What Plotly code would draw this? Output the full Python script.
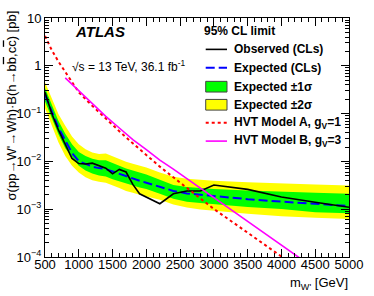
import plotly.graph_objects as go

# ---------------- data ----------------
mass = [500, 600, 700, 800, 900, 1000, 1100, 1200, 1300, 1400, 1500, 1600, 1700,
        1800, 1900, 2000, 2200, 2400, 2600, 2800, 3000, 3500, 4000, 4500, 5000]
observed = [0.28, 0.10, 0.045, 0.022, 0.0115, 0.0090, 0.0088, 0.0092, 0.0082, 0.0072,
            0.0055, 0.0068, 0.0060, 0.0033, 0.0021, 0.0018, 0.0013, 0.0021, 0.0024,
            0.0024, 0.0032, 0.0026, 0.0018, 0.0014, 0.0011]
expected = [0.248, 0.112, 0.0505, 0.0275, 0.0150, 0.0101, 0.0089, 0.0078, 0.00724,
            0.00691, 0.00615, 0.00547, 0.00486, 0.00443, 0.00394, 0.00359, 0.00298,
            0.00241, 0.00214, 0.00200, 0.00186, 0.00162, 0.00144, 0.00131, 0.00117]
exp_plus2 = [0.455, 0.2056, 0.0972, 0.0555, 0.0331, 0.0228, 0.0180, 0.0153, 0.01427,
             0.0146, 0.0127, 0.0113, 0.00982, 0.00894, 0.00814, 0.00741, 0.00587,
             0.00475, 0.00433, 0.00413, 0.00394, 0.00367, 0.00342, 0.00327, 0.00312]
exp_plus1 = [0.344, 0.155, 0.0701, 0.0381, 0.0228, 0.01567, 0.0130, 0.0113, 0.01053,
             0.01053, 0.00915, 0.00814, 0.00707, 0.00644, 0.00587, 0.00534, 0.00413,
             0.00319, 0.00291, 0.00277, 0.00265, 0.00247, 0.00230, 0.00220, 0.00210]
exp_minus1 = [0.1786, 0.0806, 0.0364, 0.0189, 0.0124, 0.00814, 0.00644, 0.0056, 0.0051,
              0.00486, 0.00423, 0.00385, 0.00342, 0.00312, 0.00284, 0.00265, 0.00210,
              0.00166, 0.00144, 0.00134, 0.00125, 0.00111, 0.00101, 0.000861, 0.000821]
exp_minus2 = [0.1288, 0.0581, 0.0250, 0.0130, 0.00814, 0.00587, 0.00464, 0.00403,
              0.00376, 0.00359, 0.00319, 0.00277, 0.00241, 0.00220, 0.00200, 0.00182,
              0.00158, 0.00125, 0.00109, 0.00099, 0.000923, 0.000802, 0.000714,
              0.000665, 0.000621]

hvt_a_mass = [500, 600, 700, 800, 900, 1000, 1200, 1400, 1600, 1800, 2000, 2200, 2400,
              2600, 2800, 3000, 3500, 4000, 4500, 5000]
hvt_a = [4.2, 2.13, 1.22, 0.745, 0.456, 0.279, 0.145, 0.0769, 0.0429, 0.0239, 0.0136,
         0.00777, 0.00464, 0.00277, 0.00166, 0.00101, 0.000322, 0.000102, 3.25e-5, 1.03e-5]

hvt_b_mass = [800, 1000, 1200, 1400, 1600, 1800, 2000, 2200, 2400, 2600, 2800, 3000,
              3500, 4000, 4500, 5000]
hvt_b = [0.56, 0.303, 0.163, 0.0877, 0.050, 0.0286, 0.0176, 0.0106, 0.00687, 0.00437,
         0.00276, 0.00175, 0.000557, 0.000177, 5.65e-5, 1.8e-5]

x_ticks = [500, 1000, 1500, 2000, 2500, 3000, 3500, 4000, 4500, 5000]
y_ticks = [1e-4, 1e-3, 1e-2, 1e-1, 1, 10]
y_tick_labels = ["10<sup>\u22124</sup>", "10<sup>\u22123</sup>", "10<sup>\u22122</sup>",
                 "10<sup>\u22121</sup>", "1", "10"]

legend_labels = ["Observed (CLs)", "Expected (CLs)", "Expected \u00b11\u03c3",
                 "Expected \u00b12\u03c3", "HVT Model A, g<sub>V</sub>=1",
                 "HVT Model B, g<sub>V</sub>=3"]

# ---------------- styling / geometry ----------------
W, H = 374, 296
PL, PR, PT, PB = 45, 359, 11, 257
FONT = "Liberation Sans, Arial, Helvetica, sans-serif"
YELLOW = "#ffff00"
GREEN = "#00ff00"


def fx(px):
    return (px - PL) / (PR - PL)


def fy(py):
    return (PB - py) / (PB - PT)


fig = go.Figure()

# bands
fig.add_trace(go.Scatter(x=mass + mass[::-1], y=exp_plus2 + exp_minus2[::-1],
                         fill="toself", fillcolor=YELLOW, line=dict(width=0),
                         mode="lines", hoverinfo="skip", showlegend=False))
fig.add_trace(go.Scatter(x=mass + mass[::-1], y=exp_plus1 + exp_minus1[::-1],
                         fill="toself", fillcolor=GREEN, line=dict(width=0),
                         mode="lines", hoverinfo="skip", showlegend=False))
# expected
fig.add_trace(go.Scatter(x=mass, y=expected, mode="lines",
                         line=dict(color="#0000ff", width=2, dash="9px,4px"),
                         showlegend=False))
# observed
fig.add_trace(go.Scatter(x=mass, y=observed, mode="lines",
                         line=dict(color="black", width=1.6), showlegend=False))
# HVT A
fig.add_trace(go.Scatter(x=hvt_a_mass, y=hvt_a, mode="lines",
                         line=dict(color="#ff0000", width=2, dash="3px,3px"),
                         showlegend=False))
# HVT B
fig.add_trace(go.Scatter(x=hvt_b_mass, y=hvt_b, mode="lines",
                         line=dict(color="#ff00ff", width=1.6), showlegend=False))

x_minor = [v for v in range(600, 5000, 100) if v % 500 != 0]
y_minor = [k * 10 ** e for e in range(-4, 1) for k in range(2, 10)]

fig.update_xaxes(range=[500, 5000], tickvals=x_ticks, ticks="inside", ticklen=8,
                 tickwidth=1, tickcolor="black", showline=True, linecolor="black",
                 linewidth=1, mirror="ticks", showgrid=False, zeroline=False,
                 ticklabelstandoff=-5,
                 tickfont=dict(family=FONT, size=13, color="black"),
                 minor=dict(tickvals=x_minor, ticks="inside", ticklen=4,
                            tickcolor="black", showgrid=False))
fig.update_yaxes(type="log", range=[-4, 1], tickvals=y_ticks, ticktext=y_tick_labels,
                 ticks="inside", ticklen=8, tickwidth=1, tickcolor="black",
                 showline=True, linecolor="black", linewidth=1, mirror="ticks",
                 showgrid=False, zeroline=False,
                 tickfont=dict(family=FONT, size=13, color="black"),
                 minor=dict(tickvals=y_minor, ticks="inside", ticklen=4,
                            tickcolor="black", showgrid=False))

shapes = []
annotations = []

# legend
sym_x0, sym_x1, text_x = 211, 233, 238
rows = [43.3, 62.3, 81.7, 100.3, 118.8, 137.7]
shapes.append(dict(type="line", xref="paper", yref="paper", x0=fx(sym_x0), x1=fx(sym_x1),
                   y0=fy(rows[0]), y1=fy(rows[0]), line=dict(color="black", width=1.6)))
shapes.append(dict(type="line", xref="paper", yref="paper", x0=fx(sym_x0), x1=fx(sym_x1),
                   y0=fy(rows[1]), y1=fy(rows[1]),
                   line=dict(color="#0000ff", width=2, dash="9px,4px")))
for r, col in ((rows[2], GREEN), (rows[3], YELLOW)):
    shapes.append(dict(type="rect", xref="paper", yref="paper", x0=fx(sym_x0),
                       x1=fx(sym_x1), y0=fy(r + 5.5), y1=fy(r - 5.5), fillcolor=col,
                       line=dict(color="#444444", width=1)))
shapes.append(dict(type="line", xref="paper", yref="paper", x0=fx(sym_x0), x1=fx(sym_x1),
                   y0=fy(rows[4]), y1=fy(rows[4]),
                   line=dict(color="#ff0000", width=2, dash="3px,3px")))
shapes.append(dict(type="line", xref="paper", yref="paper", x0=fx(sym_x0), x1=fx(sym_x1),
                   y0=fy(rows[5]), y1=fy(rows[5]), line=dict(color="#ff00ff", width=1.6)))

annotations.append(dict(text="<b>95% CL limit</b>", xref="paper", yref="paper",
                        x=fx(207), y=fy(24.3), xanchor="left", yanchor="middle",
                        showarrow=False, font=dict(family=FONT, size=12, color="black")))
for r, lab in zip(rows, legend_labels):
    annotations.append(dict(text="<b>" + lab + "</b>", xref="paper", yref="paper",
                            x=fx(text_x), y=fy(r), xanchor="left", yanchor="middle",
                            showarrow=False,
                            font=dict(family=FONT, size=12, color="black")))

annotations.append(dict(text="<b><i>ATLAS</i></b>", xref="paper", yref="paper",
                        x=fx(74), y=fy(24.5), xanchor="left", yanchor="middle",
                        showarrow=False, font=dict(family=FONT, size=15, color="black")))
annotations.append(dict(text="\u221as = 13 TeV, 36.1 fb<sup>-1</sup>", xref="paper",
                        yref="paper", x=fx(71), y=fy(60), xanchor="left",
                        yanchor="middle", showarrow=False,
                        font=dict(family=FONT, size=12, color="black")))

# axis titles
annotations.append(dict(text="m<sub>W'</sub> [GeV]", xref="paper", yref="paper",
                        x=fx(360), y=fy(284), xanchor="right", yanchor="middle",
                        showarrow=False, font=dict(family=FONT, size=13, color="black")))
ov = "<span style='text-decoration:overline'>"
annotations.append(dict(text="\u03c3(pp\u2192W'\u2192Wh)\u00b7B(h\u2192b" + ov + "b</span>,c"
                        + ov + "c</span>) [pb]",
                        xref="paper", yref="paper", x=fx(10), y=fy(1),
                        xanchor="center", yanchor="top", textangle=-90,
                        showarrow=False, font=dict(family=FONT, size=13, color="black")))

fig.update_layout(width=W, height=H, margin=dict(l=PL, r=W - PR, t=PT, b=H - PB),
                  paper_bgcolor="white", plot_bgcolor="white", showlegend=False,
                  shapes=shapes, annotations=annotations,
                  font=dict(family=FONT, size=13, color="black"))

fig.write_html("out.html", config={"displayModeBar": False},
               post_script="document.body.style.margin='0';document.body.style.padding='0';")
